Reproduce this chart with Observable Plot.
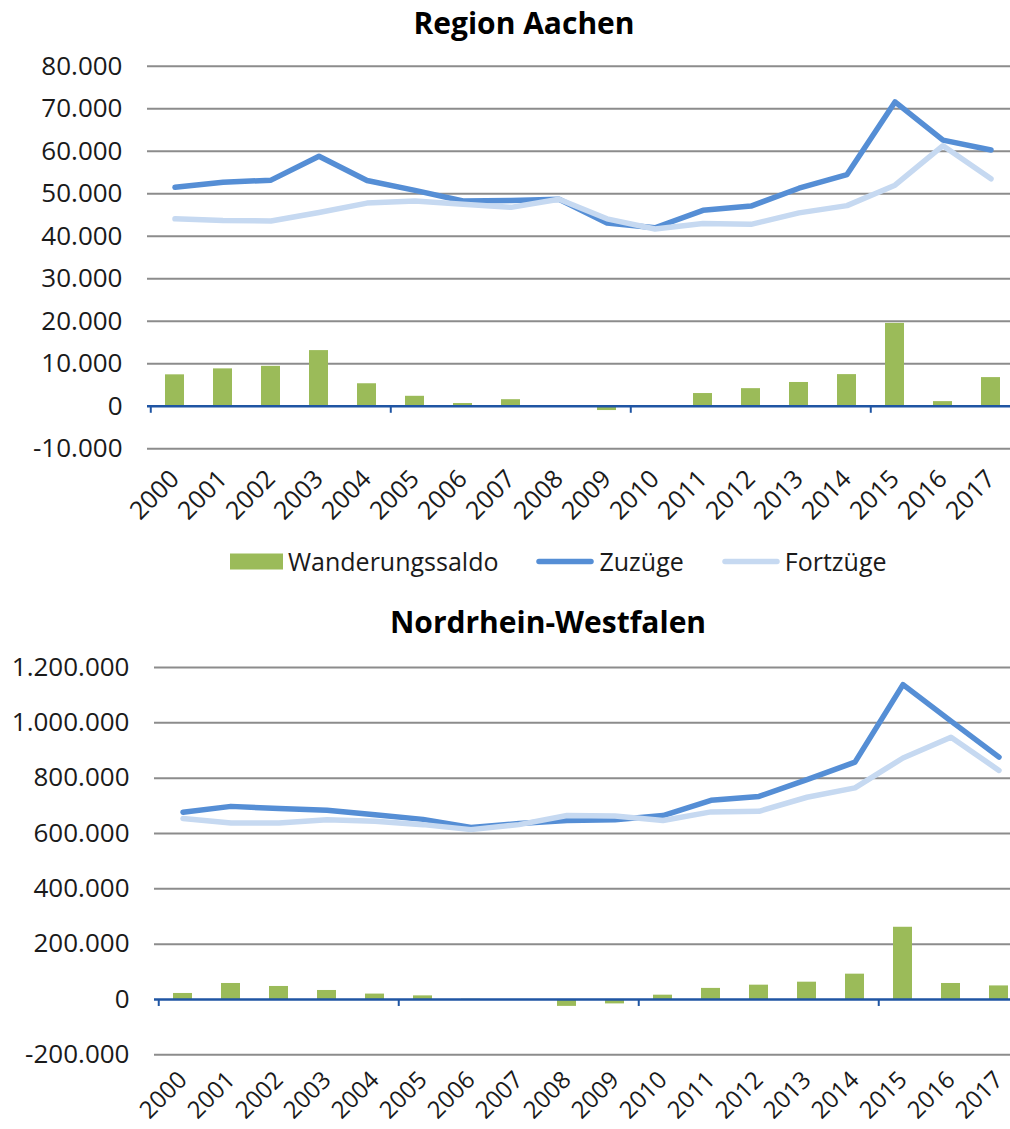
<!DOCTYPE html>
<html>
<head>
<meta charset="utf-8">
<script src="https://cdn.jsdelivr.net/npm/d3@7"></script>
<script src="https://cdn.jsdelivr.net/npm/@observablehq/plot@0.6"></script>
<style>
  html, body { margin: 0; padding: 0; background: #fff; overflow: hidden; }
  #root { position: relative; width: 1010px; height: 1129px; overflow: hidden; font-family: "Open Sans", sans-serif; color: #1a1a1a; }
  .title { position: absolute; font-weight: bold; font-size: 30px; color: #000; transform: translate(-50%, -50%); white-space: nowrap; line-height: 1; }
  .chart { position: absolute; left: 0; max-width: none !important; }
  .legend { position: absolute; left: 230px; top: 561px; transform: translateY(-50%); display: flex; align-items: center; font-size: 25px; line-height: 1; }
  .legend .item { display: flex; align-items: center; }
  .legend .item + .item { margin-left: 38px; }
  .legend svg { display: block; margin-right: 5px; }
</style>
</head>
<body>
<div id="root">
  <div class="title" style="left:524px; top:23px;">Region Aachen</div>
  <div class="title" style="left:548px; top:622px;">Nordrhein-Westfalen</div>
  <div class="legend" id="legend"></div>
</div>
<script>
// ---- Data ----
const years = ["2000","2001","2002","2003","2004","2005","2006","2007","2008","2009","2010","2011","2012","2013","2014","2015","2016","2017"];
const majorTickYears = ["2000","2005","2010","2015"];

// Region Aachen
const aachenSaldo     = [7400, 8800, 9400, 13100, 5300, 2350, 650, 1550, -200, -1000, -50, 3000, 4150, 5600, 7450, 19500, 1100, 6750];
const aachenZuzuege   = [51500, 52700, 53200, 58800, 53100, 50800, 48300, 48400, 48700, 43100, 42000, 46100, 47100, 51300, 54500, 71600, 62600, 60300];
const aachenFortzuege = [44100, 43700, 43600, 45600, 47800, 48300, 47500, 46800, 48700, 44100, 41700, 43000, 42800, 45500, 47200, 52000, 61300, 53500];
const aachenTicks     = [-10000, 0, 10000, 20000, 30000, 40000, 50000, 60000, 70000, 80000];

// Nordrhein-Westfalen
const nrwSaldo     = [21700, 57800, 47000, 32500, 19500, 13000, 1000, -1000, -25000, -16000, 15500, 40000, 51700, 62500, 91500, 261000, 57800, 49000];
const nrwZuzuege   = [677000, 698000, 690000, 684000, 668000, 651000, 622000, 636000, 647000, 650000, 665000, 720000, 734000, 795000, 858000, 1138000, 1006000, 876000];
const nrwFortzuege = [654000, 638000, 638000, 650000, 644000, 632000, 614000, 632000, 665000, 663000, 647000, 678000, 680000, 731000, 765000, 873000, 948000, 828000];
const nrwTicks     = [-200000, 0, 200000, 400000, 600000, 800000, 1000000, 1200000];

const seriesNames = ["Wanderungssaldo", "Zuzüge", "Fortzüge"];
const colors = {saldo: "#9bbb59", zu: "#558ed5", fort: "#c6d9f1", axis: "#1f55a3", grid: "#8c8c8c", text: "#1a1a1a"};

// ---- Helpers ----
const de = d3.formatLocale({decimal: ",", thousands: ".", grouping: [3], currency: ["", " €"], minus: "-"});
const fmt = de.format(",d");
const FONT = "'Open Sans', sans-serif";

function makeChart({saldo, zu, fort, ticks, top, width, height, marginLeft, marginRight, marginTop, marginBottom, tickLen, labelPad, labelSize}) {
  const data = years.map((year, i) => ({year, saldo: saldo[i], zu: zu[i], fort: fort[i]}));
  const step = (width - marginLeft - marginRight) / years.length;
  const p = Plot.plot({
    width, height, marginLeft, marginRight, marginTop, marginBottom,
    style: {fontFamily: FONT, fontSize: "25px", color: colors.text, background: "transparent", overflow: "visible", maxWidth: "none"},
    x: {type: "band", domain: years, paddingInner: 0.6, paddingOuter: 0.3, axis: null, label: null},
    y: {domain: [ticks[0], ticks[ticks.length - 1]], axis: null, label: null},
    marks: [
      Plot.ruleY(ticks.filter(t => t !== 0), {stroke: colors.grid, strokeWidth: 2}),
      Plot.axisY({ticks, tickFormat: fmt, tickSize: 0, tickPadding: 25, fontSize: 26, fill: colors.text, label: null}),
      Plot.axisX({tickRotate: -45, tickSize: 0, tickPadding: labelPad, textAnchor: "end", lineAnchor: "middle", fontSize: labelSize, fill: colors.text, label: null}),
      Plot.barY(data, {x: "year", y: "saldo", fill: colors.saldo}),
      Plot.ruleY([0], {stroke: colors.axis, strokeWidth: 2.5}),
      Plot.ruleX(majorTickYears, {x: d => d, y1: 0, y2: 0, insetBottom: -tickLen, dx: -step / 2, stroke: colors.axis, strokeWidth: 2}),
      Plot.lineY(data, {x: "year", y: "zu", stroke: colors.zu, strokeWidth: 5.5, strokeLinecap: "round", strokeLinejoin: "round"}),
      Plot.lineY(data, {x: "year", y: "fort", stroke: colors.fort, strokeWidth: 5.5, strokeLinecap: "round", strokeLinejoin: "round"})
    ]
  });
  p.classList.add("chart");
  p.style.top = top + "px";
  p.style.maxWidth = "none";
  document.getElementById("root").appendChild(p);
}

makeChart({saldo: aachenSaldo, zu: aachenZuzuege, fort: aachenFortzuege, ticks: aachenTicks,
  top: 40, width: 1020, height: 490, marginLeft: 147, marginRight: 1, marginTop: 25.7, marginBottom: 81.7, tickLen: 7, labelPad: 26, labelSize: 25});
makeChart({saldo: nrwSaldo, zu: nrwZuzuege, fort: nrwFortzuege, ticks: nrwTicks,
  top: 590, width: 1028, height: 539, marginLeft: 154, marginRight: 1, marginTop: 77, marginBottom: 74.7, tickLen: 7, labelPad: 21, labelSize: 24});

// ---- Legend ----
const legend = document.getElementById("legend");
const swatches = [
  `<svg width="53" height="18"><rect x="0" y="1" width="53" height="16" fill="${colors.saldo}"/></svg>`,
  `<svg width="58" height="18"><line x1="3" y1="9" x2="55" y2="9" stroke="${colors.zu}" stroke-width="5.5" stroke-linecap="round"/></svg>`,
  `<svg width="58" height="18"><line x1="3" y1="9" x2="55" y2="9" stroke="${colors.fort}" stroke-width="5.5" stroke-linecap="round"/></svg>`
];
seriesNames.forEach((name, i) => {
  const item = document.createElement("div");
  item.className = "item";
  item.innerHTML = swatches[i] + `<span>${name}</span>`;
  legend.appendChild(item);
});
</script>
</body>
</html>
